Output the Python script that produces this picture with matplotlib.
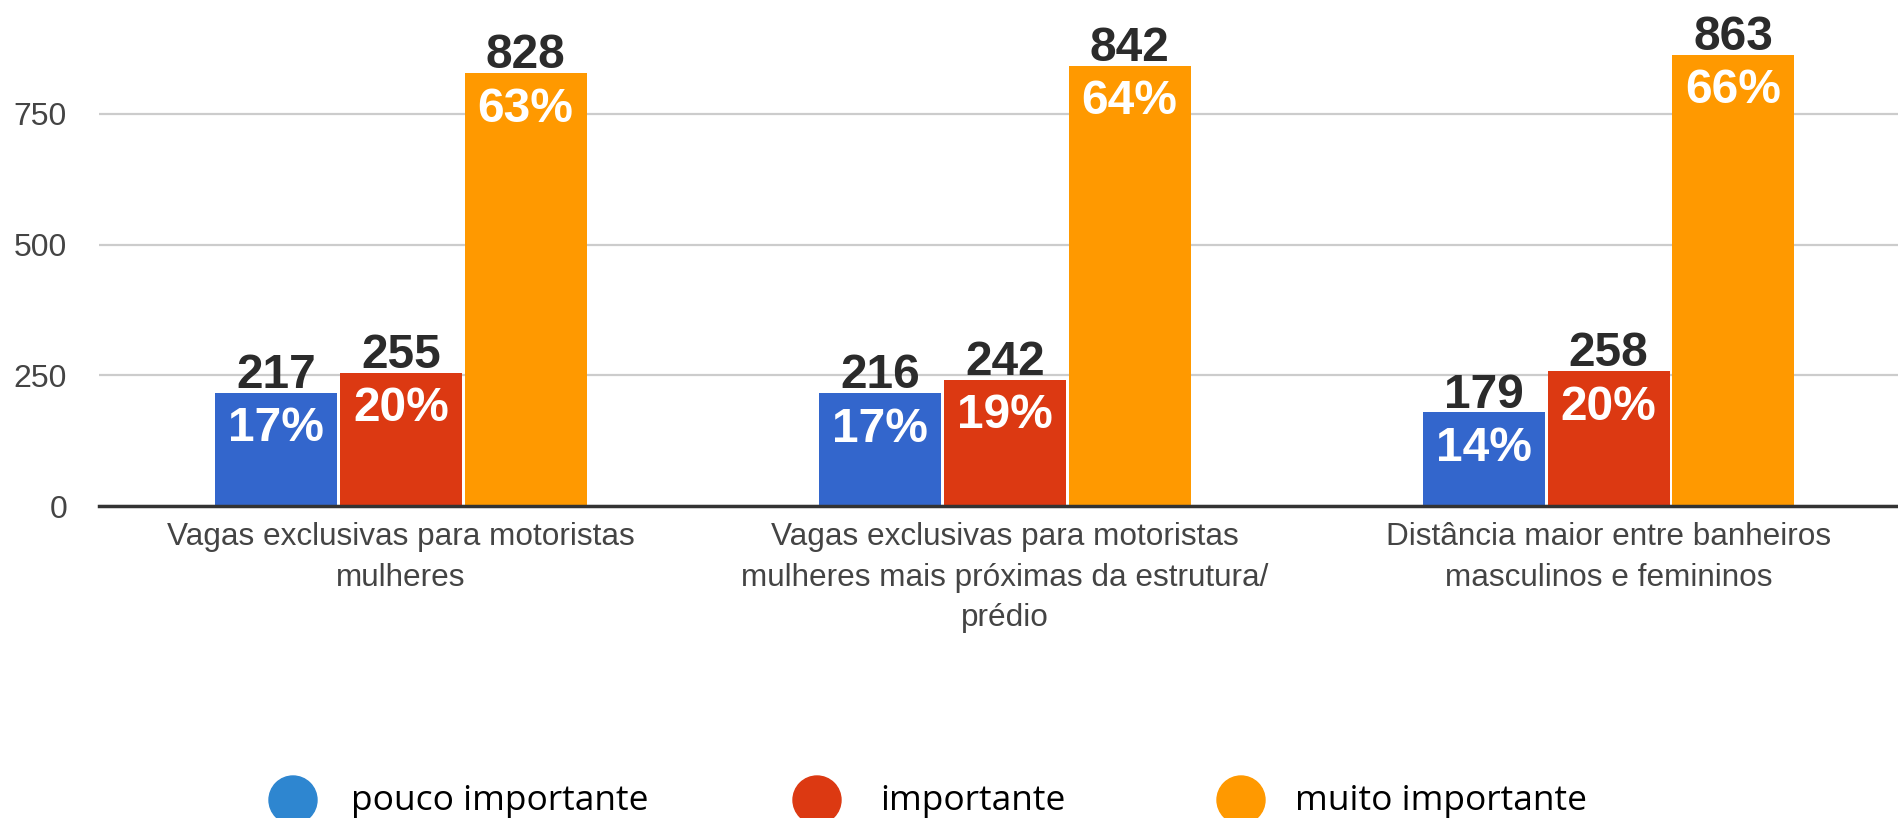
import matplotlib
matplotlib.use("Agg")
import matplotlib.pyplot as plt
from matplotlib.patches import Ellipse
import numpy as np

categories = [
    "Vagas exclusivas para motoristas\nmulheres",
    "Vagas exclusivas para motoristas\nmulheres mais próximas da estrutura/\nprédio",
    "Distância maior entre banheiros\nmasculinos e femininos",
]
series_names = ["pouco importante", "importante", "muito importante"]
pouco = [217, 216, 179]
importante = [255, 242, 258]
muito = [828, 842, 863]
pct_pouco = [17, 17, 14]
pct_importante = [20, 19, 20]
pct_muito = [63, 64, 66]
yticks = [0, 250, 500, 750]

bar_colors = ["#3366cc", "#dc3912", "#ff9900"]
legend_colors = ["#2e86d0", "#dc3912", "#ff9900"]

W, H = 1898, 818
fig = plt.figure(figsize=(W / 100, H / 100), dpi=100)
ax = fig.add_axes([99 / W, 1 - 506 / H, 1 - 99 / W, 506 / H])

values = [pouco, importante, muito]
pcts = [pct_pouco, pct_importante, pct_muito]
x = np.arange(len(categories))
step = 0.2065
width = 0.202
for i, (vals, pc, col) in enumerate(zip(values, pcts, bar_colors)):
    pos = x + (i - 1) * step
    ax.bar(pos, vals, width=width, color=col, edgecolor="none", zorder=2)
    for xp, v, p in zip(pos, vals, pc):
        ax.annotate(f"{v}", (xp, v), xytext=(0, 3.5), textcoords="offset points",
                    ha="center", va="baseline", fontsize=34.5, fontweight="bold",
                    color="#2b2b2b", family="Liberation Sans")
        ax.annotate(f"{p}%", (xp, v), xytext=(0, -35), textcoords="offset points",
                    ha="center", va="baseline", fontsize=34.5, fontweight="bold",
                    color="white", family="Liberation Sans")

ax.set_xlim(-0.5, 2.479)
ax.set_ylim(0, 968)
ax.set_yticks(yticks)
ax.set_yticklabels([str(t) for t in yticks], fontsize=23, color="#444444",
                   family="Liberation Sans")
ax.set_xticks(x)
ax.set_xticklabels(categories, fontsize=22.7, color="#444444", family="Liberation Sans")
for lab in ax.get_xticklabels():
    lab.set_linespacing(1.46)
ax.tick_params(axis="y", length=0, pad=23)
ax.tick_params(axis="x", length=0, pad=11.5)
ax.yaxis.grid(True, color="#cccccc", linewidth=1.6, zorder=0)
ax.set_axisbelow(True)
for s in ["top", "right", "left"]:
    ax.spines[s].set_visible(False)
ax.spines["bottom"].set_color("#333333")
ax.spines["bottom"].set_linewidth(2.5)
ax.spines["bottom"].set_zorder(3)

# Legend (custom placed)
circ_cx = [293, 817, 1241]
text_x = [351, 880, 1295]
cy = 800
for name, col, cx, tx in zip(series_names, legend_colors, circ_cx, text_x):
    e = Ellipse((cx / W, 1 - cy / H), width=48 / W, height=48 / H,
                transform=fig.transFigure, color=col, clip_on=False)
    fig.add_artist(e)
    fig.text(tx / W, 1 - 810 / H, name, fontsize=25.5, color="black",
             family="Open Sans", ha="left", va="baseline")

fig.savefig("out.png", dpi=100, facecolor="white")
